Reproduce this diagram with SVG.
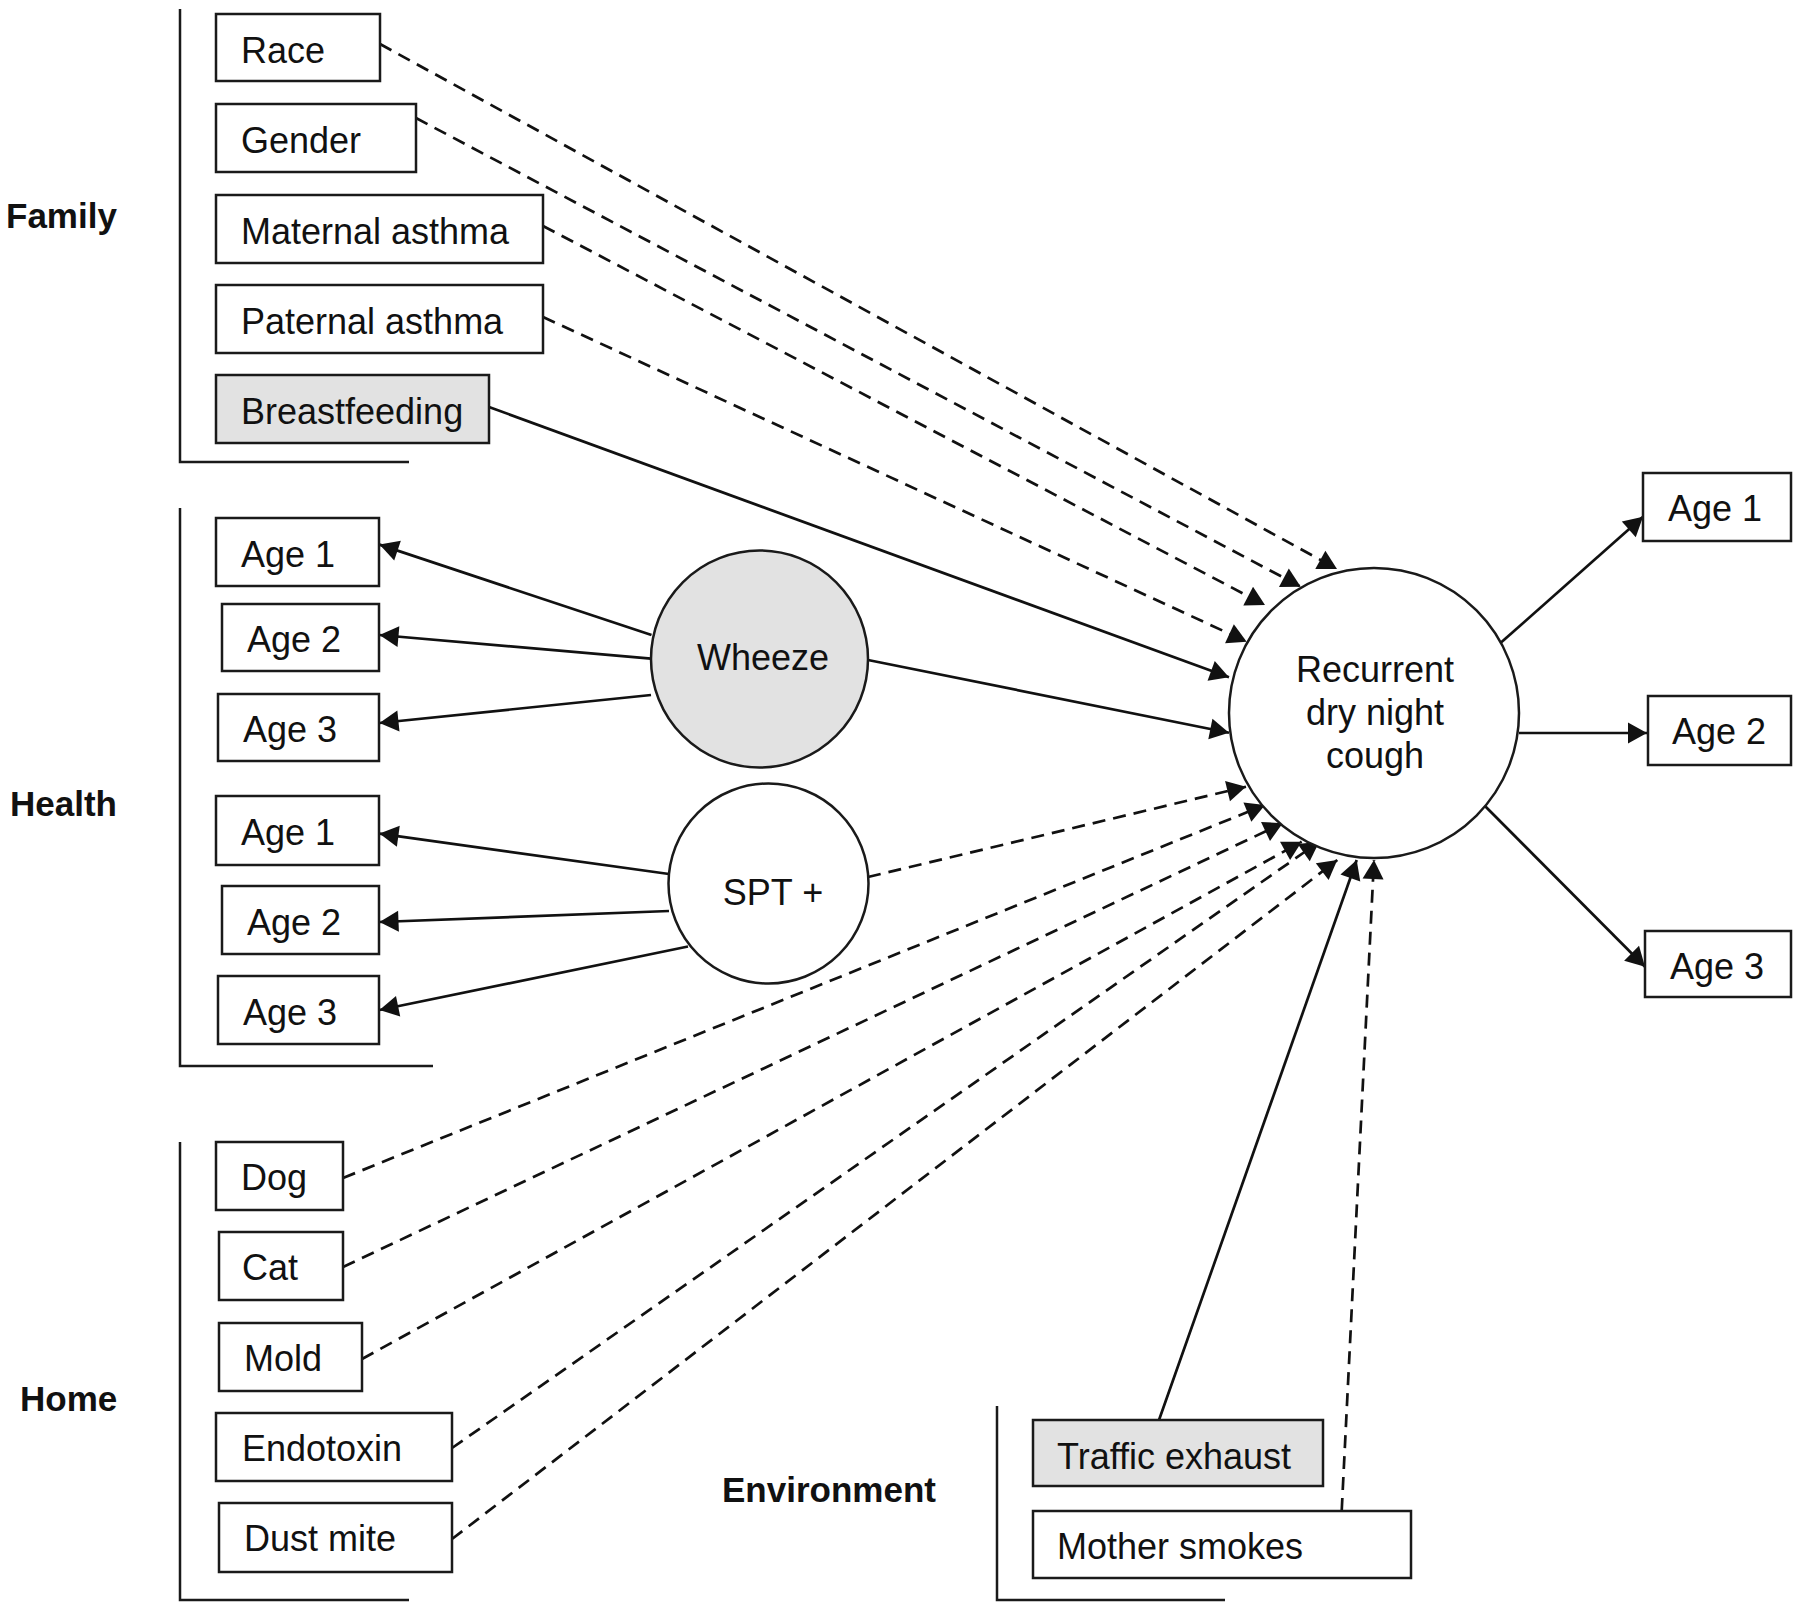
<svg xmlns="http://www.w3.org/2000/svg" width="1800" height="1610" viewBox="0 0 1800 1610">
<style>
  .box{fill:#fff;stroke:#1a1a1a;stroke-width:2.5}
  .gray{fill:#e2e2e2}
  .t{font-family:"Liberation Sans",Arial,sans-serif;font-size:36px;fill:#111}
  .lbl{font-family:"Liberation Sans",Arial,sans-serif;font-size:35px;font-weight:bold;fill:#111}
  .m{text-anchor:middle}
  .brk{fill:none;stroke:#1a1a1a;stroke-width:2.5}
  .ln{fill:none;stroke:#111;stroke-width:2.7}
  .sol{marker-end:url(#ah)}
  .dash{stroke-dasharray:13 8;marker-end:url(#ah)}
</style>
<defs>
  <marker id="ah" markerUnits="userSpaceOnUse" viewBox="-21 -11 22 22" refX="0" refY="0" markerWidth="22" markerHeight="22" orient="auto">
    <path d="M0,0 L-19,-10.5 L-19,10.5 Z" fill="#111" stroke="none"/>
  </marker>
</defs>
<rect width="1800" height="1610" fill="#fff"/>

<g id="brackets">
  <path class="brk" d="M180,9 V462 H409"/>
  <path class="brk" d="M180,508 V1066 H433"/>
  <path class="brk" d="M180,1142 V1600 H409"/>
  <path class="brk" d="M997,1406 V1600 H1225"/>
</g>

<g id="group-labels">
  <text class="lbl" x="6" y="228">Family</text>
  <text class="lbl" x="10" y="816">Health</text>
  <text class="lbl" x="20" y="1411">Home</text>
  <text class="lbl" x="722" y="1502">Environment</text>
</g>

<g id="connectors">
  <line class="ln dash" x1="380" y1="44" x2="1337" y2="569"/>
  <line class="ln dash" x1="416" y1="118" x2="1300.7" y2="586.7"/>
  <line class="ln dash" x1="543" y1="226" x2="1265" y2="605"/>
  <line class="ln dash" x1="543" y1="317" x2="1246.7" y2="641.7"/>
  <line class="ln sol" x1="489" y1="407" x2="1229" y2="677.3"/>
  <line class="ln sol" x1="868" y1="660" x2="1229" y2="732.7"/>
  <line class="ln dash" x1="868" y1="877" x2="1246" y2="786.7"/>
  <line class="ln dash" x1="343" y1="1178" x2="1265" y2="805"/>
  <line class="ln dash" x1="343" y1="1267" x2="1282.7" y2="823.3"/>
  <line class="ln dash" x1="362" y1="1359" x2="1301.7" y2="841.7"/>
  <line class="ln dash" x1="452" y1="1448" x2="1319.3" y2="841.7"/>
  <line class="ln dash" x1="452" y1="1539" x2="1337.3" y2="860"/>
  <line class="ln sol" x1="1159" y1="1420" x2="1356.7" y2="860"/>
  <line class="ln dash" x1="1341.7" y1="1511" x2="1374" y2="860"/>
  <line class="ln sol" x1="1501" y1="642.6" x2="1643" y2="516.7"/>
  <line class="ln sol" x1="1519" y1="733" x2="1647" y2="733"/>
  <line class="ln sol" x1="1483.7" y1="804.8" x2="1645" y2="966.7"/>
  <line class="ln sol" x1="651.5" y1="635" x2="379.5" y2="544.6"/>
  <line class="ln sol" x1="651" y1="658.7" x2="379.5" y2="635"/>
  <line class="ln sol" x1="651" y1="695" x2="379.5" y2="723"/>
  <line class="ln sol" x1="669" y1="874" x2="379.5" y2="833.6"/>
  <line class="ln sol" x1="669" y1="911" x2="379.5" y2="922"/>
  <line class="ln sol" x1="688" y1="946.5" x2="379.5" y2="1010"/>
</g>

<g id="race"><rect class="box" x="216" y="14" width="164" height="67"/><text class="t" x="241" y="63">Race</text></g>
<g id="gender"><rect class="box" x="216" y="104" width="200" height="68"/><text class="t" x="241" y="153">Gender</text></g>
<g id="maternal-asthma"><rect class="box" x="216" y="195" width="327" height="68"/><text class="t" x="241" y="244">Maternal asthma</text></g>
<g id="paternal-asthma"><rect class="box" x="216" y="285" width="327" height="68"/><text class="t" x="241" y="334">Paternal asthma</text></g>
<g id="breastfeeding"><rect class="box gray" x="216" y="375" width="273" height="68"/><text class="t" x="241" y="424">Breastfeeding</text></g>

<g id="wheeze-age1"><rect class="box" x="216" y="518" width="163" height="68"/><text class="t" x="241" y="567">Age 1</text></g>
<g id="wheeze-age2"><rect class="box" x="222" y="604" width="157" height="67"/><text class="t" x="247" y="652">Age 2</text></g>
<g id="wheeze-age3"><rect class="box" x="218" y="694" width="161" height="67"/><text class="t" x="243" y="742">Age 3</text></g>
<g id="spt-age1"><rect class="box" x="216" y="796" width="163" height="69"/><text class="t" x="241" y="845">Age 1</text></g>
<g id="spt-age2"><rect class="box" x="222" y="886" width="157" height="68"/><text class="t" x="247" y="935">Age 2</text></g>
<g id="spt-age3"><rect class="box" x="218" y="976" width="161" height="68"/><text class="t" x="243" y="1025">Age 3</text></g>

<g id="wheeze"><circle class="box gray" cx="759.5" cy="659" r="108.5"/><text class="t m" x="763" y="670">Wheeze</text></g>
<g id="spt"><circle class="box" cx="768.5" cy="883.5" r="100"/><text class="t m" x="773" y="905">SPT +</text></g>

<g id="dog"><rect class="box" x="216" y="1142" width="127" height="68"/><text class="t" x="241" y="1190">Dog</text></g>
<g id="cat"><rect class="box" x="219" y="1232" width="124" height="68"/><text class="t" x="242" y="1280">Cat</text></g>
<g id="mold"><rect class="box" x="219" y="1323" width="143" height="68"/><text class="t" x="244" y="1371">Mold</text></g>
<g id="endotoxin"><rect class="box" x="216" y="1413" width="236" height="68"/><text class="t" x="242" y="1461">Endotoxin</text></g>
<g id="dust-mite"><rect class="box" x="219" y="1503" width="233" height="69"/><text class="t" x="244" y="1551">Dust mite</text></g>

<g id="traffic-exhaust"><rect class="box gray" x="1033" y="1420" width="290" height="66"/><text class="t" x="1057" y="1469">Traffic exhaust</text></g>
<g id="mother-smokes"><rect class="box" x="1033" y="1511" width="378" height="67"/><text class="t" x="1057" y="1559">Mother smokes</text></g>

<g id="cough"><circle class="box" cx="1374" cy="713" r="145"/>
  <text class="t m" x="1375" y="682">Recurrent</text>
  <text class="t m" x="1375" y="725">dry night</text>
  <text class="t m" x="1375" y="768">cough</text>
</g>

<g id="cough-age1"><rect class="box" x="1643" y="473" width="148" height="68"/><text class="t" x="1668" y="521">Age 1</text></g>
<g id="cough-age2"><rect class="box" x="1648" y="696" width="143" height="69"/><text class="t" x="1672" y="744">Age 2</text></g>
<g id="cough-age3"><rect class="box" x="1645" y="931" width="146" height="66"/><text class="t" x="1670" y="979">Age 3</text></g>
</svg>
